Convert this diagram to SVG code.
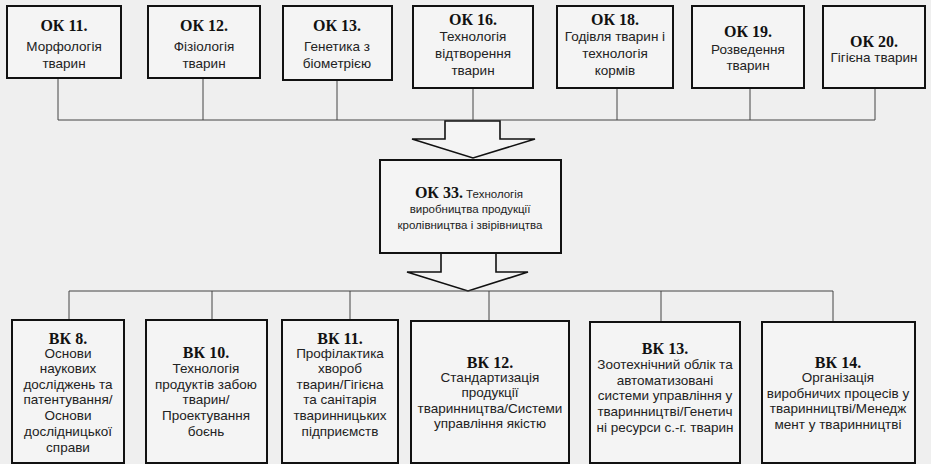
<svg xmlns="http://www.w3.org/2000/svg" width="931" height="464" viewBox="0 0 931 464">
<style>
.box{fill:#f4f4f4;stroke:#111;stroke-width:2}
.ln{fill:none;stroke:#444;stroke-width:1}
.arr{fill:#f4f4f4;stroke:#111;stroke-width:1.6;stroke-linejoin:miter}
.t{font-family:"Liberation Serif","Tinos","Times New Roman","DejaVu Serif",serif;font-weight:bold;font-size:16px;fill:#111;text-anchor:middle}
.b{font-family:"Liberation Sans",Arial,sans-serif;font-size:13.5px;fill:#222;text-anchor:middle}
.c{font-family:"Liberation Sans",Arial,sans-serif;font-size:13.5px;fill:#222;text-anchor:middle}
.s{font-family:"Liberation Sans",Arial,sans-serif;font-size:11.5px;fill:#222;text-anchor:middle}
</style>
<rect width="931" height="464" fill="#efefef"/>
<g id="connectors">
<path class="ln" d="M58 78V120M203 78V120M337 80V120M473 88V120M617 88V120M750 88V120M875 88V120M58 120H875"/>
<path class="arr" d="M445 121H500V139H535L473 158L412 139H445Z"/>
<path class="arr" d="M441 253V272H407L468 291L528 272H496V253"/>
<path class="ln" d="M69 291H833M69 291V320M212 291V320M350 291V320M489 291V321M661 291V322M833 291V322"/>
</g>
<g id="ok11"><rect class="box" x="7" y="6" width="114" height="72"/>
<text class="t" x="64" y="31">ОК 11.</text>
<text class="c" x="64" y="51">Морфологія</text>
<text class="c" x="64" y="68">тварин</text></g>
<g id="ok12"><rect class="box" x="148" y="6" width="112" height="72"/>
<text class="t" x="204" y="31">ОК 12.</text>
<text class="c" x="204" y="51">Фізіологія</text>
<text class="c" x="204" y="68">тварин</text></g>
<g id="ok13"><rect class="box" x="283" y="6" width="109" height="74"/>
<text class="t" x="337" y="31">ОК 13.</text>
<text class="c" x="337" y="51">Генетика з</text>
<text class="c" x="337" y="68">біометрією</text></g>
<g id="ok16"><rect class="box" x="413" y="6" width="120" height="82"/>
<text class="t" x="473" y="25">ОК 16.</text>
<text class="c" x="473" y="41">Технологія</text>
<text class="c" x="473" y="58">відтворення</text>
<text class="c" x="473" y="75">тварин</text></g>
<g id="ok18"><rect class="box" x="557" y="6" width="116" height="82"/>
<text class="t" x="615" y="25">ОК 18.</text>
<text class="c" x="615" y="41">Годівля тварин і</text>
<text class="c" x="615" y="58">технологія</text>
<text class="c" x="615" y="75">кормів</text></g>
<g id="ok19"><rect class="box" x="692" y="6" width="112" height="82"/>
<text class="t" x="748" y="37">ОК 19.</text>
<text class="c" x="748" y="54">Розведення</text>
<text class="c" x="748" y="70">тварин</text></g>
<g id="ok20"><rect class="box" x="823" y="6" width="102" height="82"/>
<text class="t" x="874" y="47">ОК 20.</text>
<text class="c" x="874" y="62">Гігієна тварин</text></g>
<g id="ok33"><rect class="box" x="380" y="160" width="181" height="93"/>
<text x="469" y="198" text-anchor="middle" font-family="Liberation Sans, Arial, sans-serif" font-size="11.5" fill="#222"><tspan font-family="Liberation Serif, Tinos, DejaVu Serif, serif" font-weight="bold" font-size="16" fill="#111">ОК 33.</tspan> Технологія</text>
<text class="s" x="470" y="213">виробництва продукції</text>
<text class="s" x="470" y="229">кролівництва і звірівництва</text></g>
<g id="vk8"><rect class="box" x="12" y="320" width="112" height="143"/>
<text class="t" x="68" y="344">ВК 8.</text>
<text class="b" x="68" y="358">Основи</text>
<text class="b" x="68" y="373">наукових</text>
<text class="b" x="68" y="389">досліджень та</text>
<text class="b" x="68" y="404">патентування/</text>
<text class="b" x="68" y="420">Основи</text>
<text class="b" x="68" y="436">дослідницької</text>
<text class="b" x="68" y="452">справи</text></g>
<g id="vk10"><rect class="box" x="146" y="320" width="121" height="143"/>
<text class="t" x="206" y="358">ВК 10.</text>
<text class="b" x="206" y="373">Технологія</text>
<text class="b" x="206" y="389">продуктів забою</text>
<text class="b" x="206" y="404">тварин/</text>
<text class="b" x="206" y="420">Проектування</text>
<text class="b" x="206" y="436">боєнь</text></g>
<g id="vk11"><rect class="box" x="282" y="320" width="116" height="143"/>
<text class="t" x="340" y="344">ВК 11.</text>
<text class="b" x="340" y="358">Профілактика</text>
<text class="b" x="340" y="373">хвороб</text>
<text class="b" x="340" y="389">тварин/Гігієна</text>
<text class="b" x="340" y="404">та санітарія</text>
<text class="b" x="340" y="420">тваринницьких</text>
<text class="b" x="340" y="436">підприємств</text></g>
<g id="vk12"><rect class="box" x="411" y="321" width="158" height="142"/>
<text class="t" x="490" y="368">ВК 12.</text>
<text class="b" x="490" y="382">Стандартизація</text>
<text class="b" x="490" y="397">продукції</text>
<text class="b" x="490" y="413">тваринництва/Системи</text>
<text class="b" x="490" y="428">управління якістю</text></g>
<g id="vk13"><rect class="box" x="590" y="322" width="150" height="141"/>
<text class="t" x="665" y="354">ВК 13.</text>
<text class="b" x="665" y="369">Зоотехнічний облік та</text>
<text class="b" x="665" y="385">автоматизовані</text>
<text class="b" x="665" y="400">системи управління у</text>
<text class="b" x="665" y="416">тваринництві/Генетич</text>
<text class="b" x="665" y="432">ні ресурси с.-г. тварин</text></g>
<g id="vk14"><rect class="box" x="762" y="322" width="153" height="141"/>
<text class="t" x="838" y="368">ВК 14.</text>
<text class="b" x="838" y="382">Організація</text>
<text class="b" x="838" y="398">виробничих процесів у</text>
<text class="b" x="838" y="413">тваринництві/Менедж</text>
<text class="b" x="838" y="429">мент у тваринництві</text></g>
</svg>
